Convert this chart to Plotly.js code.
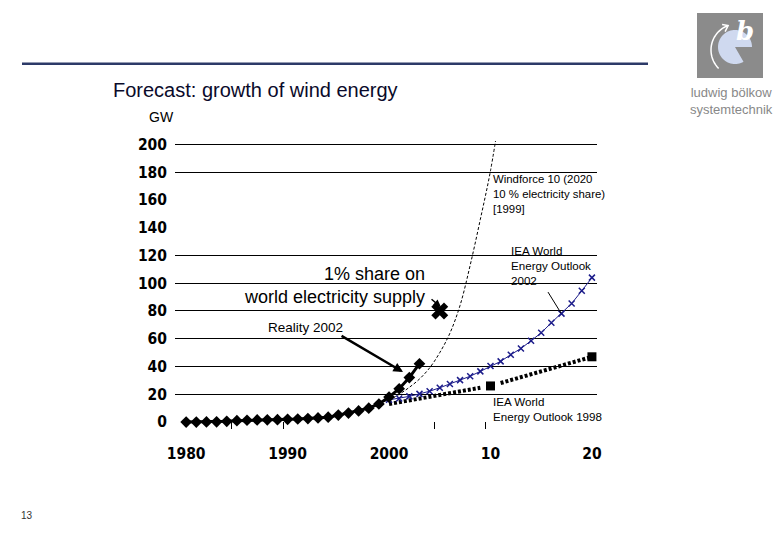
<!DOCTYPE html>
<html>
<head>
<meta charset="utf-8">
<script src="https://cdn.plot.ly/plotly-3.0.1.min.js"></script>
<style>html,body{margin:0;padding:0;background:#fff;}#chart{width:780px;height:540px;}</style>
</head>
<body>
<div id="chart"></div>
<script>
// ---- data ----
const realityYears = [1980,1981,1982,1983,1984,1985,1986,1987,1988,1989,1990,1991,1992,1993,1994,1995,1996,1997,1998,1999,2000,2001,2002,2003];
const realityGW    = [0,0,0.1,0.2,0.5,1,1.3,1.5,1.6,1.7,2,2.2,2.5,3,3.5,5,6.5,8,10,13,18,24,32,42];

const weo2002Years = [2000,2001,2002,2003,2004,2005,2006,2007,2008,2009,2010,2011,2012,2013,2014,2015,2016,2017,2018,2019,2020];
const weo2002GW    = [16,17,18.5,20.3,22.2,24.7,27.4,30.2,33,36.5,40.4,43.7,48.5,53,58.5,64.3,71.5,78.1,85.4,94.5,104];

const weo1998YearsA = [2000,2009];
const weo1998GWA    = [13,24.7];
const weo1998YearsB = [2011,2020];
const weo1998GWB    = [28.1,47];
const weo1998MarkYears = [2010,2020];
const weo1998MarkGW    = [26,47];

const windforceYears = [1999,2000,2001,2002,2003,2004,2005,2006,2007,2008,2009,2010,2011];
const windforceGW    = [14,16,20,25,31,39,50,64,84,113,146,181,226];

const shareYear = [2005];
const shareGW   = [80];

const yTickVals = [0,20,40,60,80,100,120,140,160,180,200];
const yGridVals = [20,40,60,80,100,120,180,200];
const xTickVals = [1980,1990,2000,2010,2020];
const xTickText = ['1980','1990','2000','10','20'];
const xMinorMarks = [1984.43,1989.59,2004.46,2009.49];

// ---- layout helpers (pixel -> paper) ----
const L = 175, R = 597, T = 141, B = 429;
const W = R - L, H = B - T;
function px(x){ return (x - L) / W; }
function py(y){ return (B - y) / H; }

const xRange = [1978.9, 2020.5];
const yRange = [-5.0, 202.4];

const dotted = {color:'#000', width:4, dash:'3px,2px'};
const traces = [
  {x: weo1998YearsA, y: weo1998GWA, mode:'lines', line:dotted, hoverinfo:'skip', showlegend:false},
  {x: weo1998YearsB, y: weo1998GWB, mode:'lines', line:dotted, hoverinfo:'skip', showlegend:false},
  {x: weo1998MarkYears, y: weo1998MarkGW, mode:'markers', marker:{symbol:'square', size:9, color:'#000'}, showlegend:false, cliponaxis:false},
  {x: weo2002Years, y: weo2002GW, mode:'lines+markers', line:{color:'#1c1c8a', width:1},
   marker:{symbol:'x-thin-open', size:6, line:{color:'#1c1c8a', width:1.5}}, showlegend:false},
  {x: windforceYears, y: windforceGW, mode:'lines', line:{color:'#000', width:1, dash:'3px,2px', shape:'spline'}, showlegend:false},
  {x: realityYears, y: realityGW, mode:'lines+markers', line:{color:'#000', width:3},
   marker:{symbol:'diamond', size:9, color:'#000'}, showlegend:false, cliponaxis:false},
  {x: shareYear, y: shareGW, mode:'markers', marker:{symbol:'x', size:15, color:'#000'}, showlegend:false},
  {x:[null], y:[null], xaxis:'x2', yaxis:'y2', mode:'markers', showlegend:false, hoverinfo:'skip'}
];

const tickFont = {family:'DejaVu Sans Condensed, DejaVu Sans, Verdana, sans-serif', size:15.5, color:'#000', weight:'bold'};
const txt = 'Arial, Liberation Sans, sans-serif';

// logo shapes
const cx = 735, cy = 47, r = 17;
let pie = 'M ' + px(cx) + ',' + py(cy);
for (let a = 60; a <= 360; a += 5) {
  const rad = a * Math.PI / 180;
  pie += ' L ' + px(cx + r*Math.cos(rad)) + ',' + py(cy + r*Math.sin(rad));
}
pie += ' Z';
let arc = '';
const acx = 737, acy = 50, ar = 26;
for (let a = 135; a <= 250; a += 5) {
  const rad = a * Math.PI / 180;
  arc += (arc ? ' L ' : 'M ') + px(acx + ar*Math.cos(rad)) + ',' + py(acy + ar*Math.sin(rad));
}
const endRad = 250*Math.PI/180;
const ex = acx + ar*Math.cos(endRad), ey = acy + ar*Math.sin(endRad);
const head = 'M ' + px(ex-6) + ',' + py(ey-1) + ' L ' + px(ex) + ',' + py(ey) + ' L ' + px(ex-3) + ',' + py(ey+6);

const layout = {
  width:780, height:540,
  margin:{l:L, r:780-R, t:T, b:540-B, pad:0},
  paper_bgcolor:'#fff', plot_bgcolor:'rgba(0,0,0,0)',
  xaxis:{range:xRange, tickvals:xTickVals, ticktext:xTickText, showgrid:false, zeroline:false, showline:false,
         ticks:'', tickfont:tickFont, ticklabelstandoff:13, fixedrange:true},
  xaxis2:{range:xRange, overlaying:'x', anchor:'y2', side:'bottom', tickvals:xMinorMarks, ticks:'inside', ticklen:7,
          tickwidth:1, tickcolor:'#000', showticklabels:false, showgrid:false, zeroline:false, showline:false},
  yaxis:{range:yRange, tickvals:yGridVals, showticklabels:false, showgrid:true, gridcolor:'#000', gridwidth:1,
         zeroline:false, showline:false, ticks:''},
  yaxis2:{range:yRange, overlaying:'y', anchor:'x2', side:'left', tickvals:yTickVals, showgrid:false, zeroline:false,
          showline:false, ticks:'', tickfont:tickFont, ticklabelstandoff:7},
  shapes:[
    {type:'rect', xref:'paper', yref:'paper', x0:px(22), x1:px(648), y0:py(65), y1:py(62.5), fillcolor:'#2c3a68', line:{width:0}},
    {type:'rect', xref:'paper', yref:'paper', x0:px(697), x1:px(763), y0:py(78), y1:py(13), fillcolor:'#8b8b8b', line:{width:0}},
    {type:'path', xref:'paper', yref:'paper', path:pie, fillcolor:'#cfd9ef', line:{width:0}},
    {type:'path', xref:'paper', yref:'paper', path:arc, line:{color:'#fff', width:1.5}},
    {type:'path', xref:'paper', yref:'paper', path:head, line:{color:'#fff', width:1.5}},
    {type:'line', xref:'x', yref:'y', x0:2015.67, y0:93.6, x1:2016.95, y1:78.5, line:{color:'#000', width:1}}
  ],
  annotations:[
    {xref:'paper', yref:'paper', x:px(111), y:py(90), xanchor:'left', yanchor:'middle', showarrow:false,
     text:'Forecast: growth of wind energy', font:{family:txt, size:20, color:'#0a0a2a'}},
    {xref:'paper', yref:'paper', x:px(147), y:py(117), xanchor:'left', yanchor:'middle', showarrow:false,
     text:'GW', font:{family:txt, size:14, color:'#000'}},
    {xref:'paper', yref:'paper', x:px(745), y:py(31), xanchor:'center', yanchor:'middle', showarrow:false,
     text:'<b><i>b</i></b>', font:{family:'DejaVu Serif, Liberation Serif, serif', size:26, color:'#fff'}},
    {xref:'paper', yref:'paper', x:px(731), y:py(100.5), xanchor:'center', yanchor:'middle', showarrow:false,
     text:'ludwig bölkow<br>systemtechnik', font:{family:txt, size:13, color:'#888'}},
    {xref:'paper', yref:'paper', x:px(27), y:py(515), xanchor:'center', yanchor:'middle', showarrow:false,
     text:'13', font:{family:txt, size:10, color:'#333'}},
    {xref:'x', yref:'y', x:2010.05, y:180.5, xanchor:'left', yanchor:'top', align:'left', showarrow:false,
     text:'Windforce 10 (2020<br>10 % electricity share)<br>[1999]', font:{family:txt, size:11.4, color:'#000'}},
    {xref:'x', yref:'y', x:2011.8, y:130, xanchor:'left', yanchor:'top', align:'left', showarrow:false,
     text:'IEA World<br>Energy Outlook<br>2002', font:{family:txt, size:11.6, color:'#000'}},
    {xref:'x', yref:'y', x:2010.05, y:21, xanchor:'left', yanchor:'top', align:'left', showarrow:false,
     text:'IEA World<br>Energy Outlook 1998', font:{family:txt, size:11.6, color:'#000'}},
    {xref:'x', yref:'y', x:1987.9, y:68.4, xanchor:'left', yanchor:'middle', align:'left', showarrow:false,
     text:'Reality 2002', font:{family:txt, size:13.5, color:'#000'}},
    {xref:'x', yref:'y', x:2003.74, y:115.5, xanchor:'right', yanchor:'top', align:'right', showarrow:false,
     text:'1% share on<br>world electricity supply', font:{family:txt, size:18, color:'#000'}},
    {xref:'x', yref:'y', x:2001.38, y:36.0, axref:'x', ayref:'y', ax:1995.17, ay:62.7, text:'', showarrow:true,
     arrowhead:2, arrowsize:0.8, arrowwidth:2.4, arrowcolor:'#000', standoff:0},
    {xref:'x', yref:'y', x:2005.12, y:82.8, axref:'x', ayref:'y', ax:2004.04, ay:89.3, text:'', showarrow:true,
     arrowhead:2, arrowsize:1, arrowwidth:1.5, arrowcolor:'#000', standoff:0}
  ]
};

Plotly.newPlot('chart', traces, layout, {displayModeBar:false, staticPlot:true});
</script>
</body>
</html>
